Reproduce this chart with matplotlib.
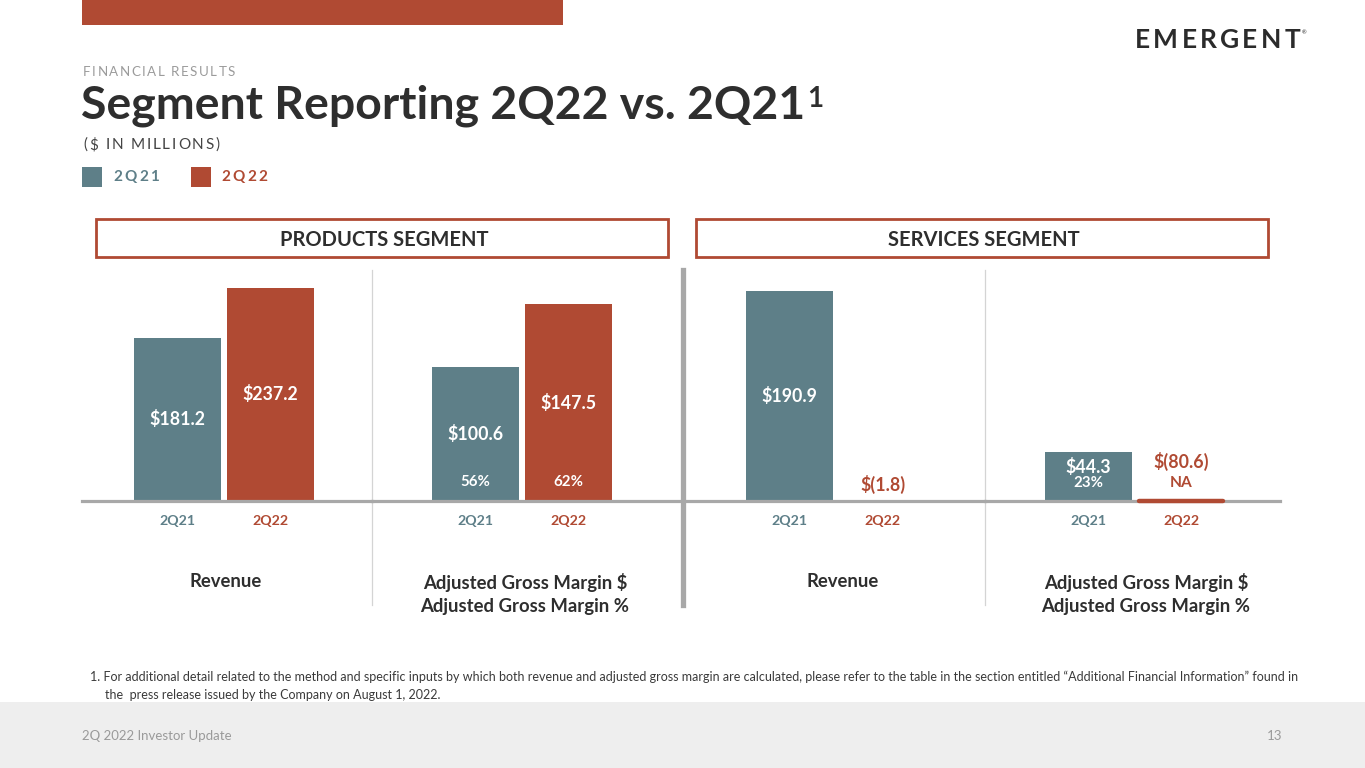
import matplotlib
matplotlib.use('Agg')
import matplotlib.pyplot as plt
from matplotlib.patches import Rectangle
from matplotlib.font_manager import findfont, FontProperties
from matplotlib.ft2font import FT2Font

W, H = 1365, 768
TEAL = '#5e7f88'
RED = '#b04a33'
DARK = '#2e2e2e'
GREY_LINE = '#a8a8a8'
FONT = 'Lato'

plt.rcParams['font.family'] = [FONT, 'DejaVu Sans']
plt.rcParams['text.parse_math'] = False

# ---- data ($ in millions) ----
periods = ['2Q21', '2Q22']
products_revenue = [181.2, 237.2]
products_margin = [100.6, 147.5]
products_margin_pct = ['56%', '62%']
services_revenue = [190.9, -1.8]
services_margin = [44.3, -80.6]
services_margin_pct = ['23%', 'NA']
segments = ['PRODUCTS SEGMENT', 'SERVICES SEGMENT']
panel_titles = ['Revenue', 'Adjusted Gross Margin $\nAdjusted Gross Margin %',
                'Revenue', 'Adjusted Gross Margin $\nAdjusted Gross Margin %']
footnote = ['1. For additional detail related to the method and specific inputs by which both revenue and adjusted '
            'gross margin are calculated, please refer to the table in the section entitled \u201cAdditional '
            'Financial Information\u201d found in',
            'the  press release issued by the Company on August 1, 2022.']

fig = plt.figure(figsize=(W / 100, H / 100), dpi=100)
bg = fig.add_axes([0, 0, 1, 1])
bg.set_xlim(0, W)
bg.set_ylim(H, 0)
bg.axis('off')
renderer = fig.canvas.get_renderer()


def spaced_text(x, y, s, size, tracking, color, weight='normal'):
    # matplotlib has no letter-spacing, so place glyphs one by one
    f = FT2Font(findfont(FontProperties(family=FONT, weight=weight)))
    f.set_size(size, 100)
    for ch in s:
        if ch != ' ':
            bg.text(x, y, ch, fontsize=size, color=color, weight=weight, va='center', ha='left')
        g = f.load_char(ord(ch))
        x += g.linearHoriAdvance / 65536 + tracking
    return x


# ---- slide decorations ----
bg.add_patch(Rectangle((82, 0), 481, 25, color=RED, lw=0))
bg.add_patch(Rectangle((0, 702), W, 66, color='#eeeeee', lw=0))

spaced_text(83, 72, 'FINANCIAL RESULTS', 9.6, 1.5, '#9b9b9b')
t = bg.text(81, 106, 'Segment Reporting 2Q22 vs. 2Q21', fontsize=33.4, weight='bold', color=DARK,
            va='center', ha='left')
bb = t.get_window_extent(renderer)
bg.text(bb.x1 + 2, 99, '1', fontsize=20, weight='bold', color=DARK, va='center', ha='left')
spaced_text(83, 145, '($ IN MILLIONS)', 11, 1.8, '#444444')

bg.add_patch(Rectangle((82, 167), 20, 20, color=TEAL, lw=0))
spaced_text(113, 177, periods[0], 11, 2.4, TEAL, 'bold')
bg.add_patch(Rectangle((191, 167), 20, 20, color=RED, lw=0))
spaced_text(221, 177, periods[1], 11, 2.4, RED, 'bold')

# logo
xl = spaced_text(1135, 40, 'EMERGENT', 19, 3.2, '#2b2b2b', 'bold')
bg.text(xl - 2, 33, '\u00ae', fontsize=4, color='#2b2b2b', va='center')

# segment header boxes
for (x0, label) in zip([96, 696], segments):
    bg.add_patch(Rectangle((x0, 219), 572, 38, fill=False, edgecolor=RED, lw=2))
    bg.text(x0 + 288, 240, label, fontsize=14.5, weight='bold', color=DARK, ha='center', va='center')

# dividers
bg.plot([372, 372], [270, 605], color='#d4d4d4', lw=0.9)
bg.plot([683, 683], [270, 605], color=GREY_LINE, lw=3.8)
bg.plot([985, 985], [270, 605], color='#d4d4d4', lw=0.9)

# ---- chart panels ----
SPACING = 93.0          # px between the two bar centres
BAR_W = 87 / SPACING
TOP, BASE = 270, 501
panels = [
    # left px, right px, first bar centre px, px per $M, values, pct labels, title centre px
    (82, 372, 177.5, 0.900, products_revenue, None, 226),
    (372, 683, 475.5, 1.335, products_margin, products_margin_pct, 525),
    (683, 985, 789.5, 1.100, services_revenue, None, 843),
    (985, 1280, 1088.0, 1.105, services_margin, services_margin_pct, 1146),
]
colors = [TEAL, RED]

for i, (left, right, c0, scale, vals, pcts, tc) in enumerate(panels):
    ax = fig.add_axes([left / W, 1 - BASE / H, (right - left) / W, (BASE - TOP) / H])
    ax.patch.set_alpha(0)
    ax.set_xlim((left - c0) / SPACING, (right - c0) / SPACING)
    ax.set_ylim(0, (BASE - TOP) / scale)
    for s in ax.spines.values():
        s.set_visible(False)
    ax.set_yticks([])
    ax.set_xticks([0, 1], periods)
    ax.tick_params(axis='x', length=0, pad=10, labelsize=10.2)
    for lab, c in zip(ax.get_xticklabels(), colors):
        lab.set_color(c)
        lab.set_fontweight('bold')
    ax.axhline(0, color=GREY_LINE, lw=2.3, zorder=3, clip_on=False)

    for j, v in enumerate(vals):
        label = f'${v:.1f}' if v >= 0 else f'$({abs(v):.1f})'
        if v > 0:
            ax.bar(j, v, width=BAR_W, color=colors[j], zorder=2)
        elif v < -50:
            # large negatives are shown as a thin stub on the axis
            ax.plot([j - BAR_W / 2 + 0.02, j + BAR_W / 2 - 0.02], [0, 0], color=colors[j], lw=3.2,
                    solid_capstyle='round', zorder=4, clip_on=False)
        txt_color = 'white' if v > 0 else RED
        bar_px = v * scale
        if pcts is None:
            if v > 0:
                ax.text(j, v / 2, label, color=txt_color, fontsize=12.8, weight='bold',
                        ha='center', va='center')
            else:
                ax.annotate(label, (j, 0), xytext=(0, 17), textcoords='offset pixels', color=txt_color,
                            fontsize=12.8, weight='bold', ha='center', va='center')
        else:
            if bar_px > 80:
                ax.text(j, v / 2, label, color=txt_color, fontsize=12.8, weight='bold',
                        ha='center', va='center')
                ax.annotate(pcts[j], (j, 0), xytext=(0, 19), textcoords='offset pixels', color=txt_color,
                            fontsize=10.8, weight='bold', ha='center', va='center')
            else:
                ax.annotate(label, (j, 0), xytext=(0, 34 if v > 0 else 40), textcoords='offset pixels',
                            color=txt_color, fontsize=12.8, weight='bold', ha='center', va='center')
                ax.annotate(pcts[j], (j, 0), xytext=(0, 18), textcoords='offset pixels', color=txt_color,
                            fontsize=10.8 if v > 0 else 11.2, weight='bold', ha='center', va='center')

    bg.text(tc, 573, panel_titles[i], fontsize=13.3, weight='bold', color=DARK,
            ha='center', va='top', linespacing=1.4)

# ---- footnote & footer ----
bg.text(90, 677, footnote[0], fontsize=9.0, color='#3a3a3a', va='center', ha='left')
bg.text(105, 695, footnote[1], fontsize=9.0, color='#3a3a3a', va='center', ha='left')
bg.text(82, 736, '2Q 2022 Investor Update', fontsize=9.5, color='#9a9a9a', va='center', ha='left')
bg.text(1282, 736, '13', fontsize=9.5, color='#9a9a9a', va='center', ha='right')

fig.savefig('out.png', dpi=100)
